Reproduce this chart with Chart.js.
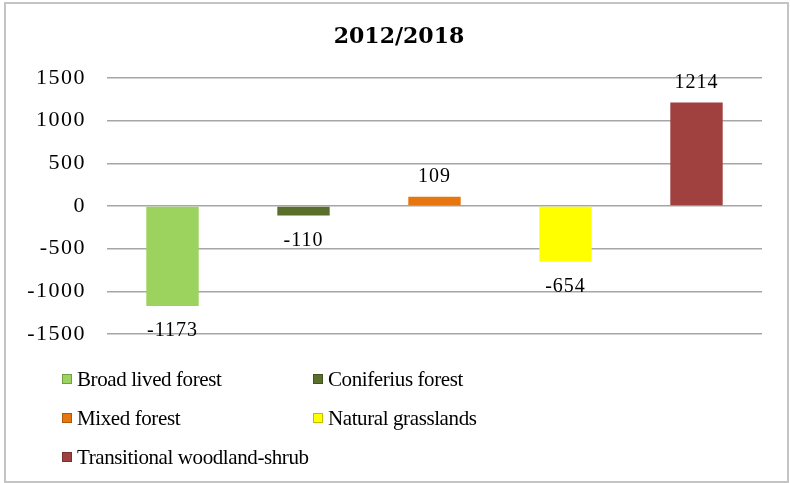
<!DOCTYPE html>
<html>
<head>
<meta charset="utf-8">
<script src="https://cdn.jsdelivr.net/npm/chart.js@4/dist/chart.umd.min.js"></script>
<style>
  html, body { margin: 0; padding: 0; background: #fff; }
  #wrap { width: 790px; height: 483px; position: relative; }
</style>
</head>
<body>
<div id="wrap"><canvas id="changeChart" width="790" height="483"></canvas></div>
<script>
// land cover change 2012 -> 2018
const chartTitle = '2012/2018';
const categories = ['Broad lived forest', 'Coniferius forest', 'Mixed forest', 'Natural grasslands', 'Transitional woodland-shrub'];
const changes = [-1173, -110, 109, -654, 1214];
const yTicks = [-1500, -1000, -500, 0, 500, 1000, 1500];

const barColors = ['#9bd35e', '#5b6f2d', '#e8760f', '#ffff00', '#a04140'];
const SERIF = '"Liberation Serif", "Times New Roman", serif';

// frame, title, value labels and the two-column legend
const decorPlugin = {
    id: 'decor',
    beforeDraw(chart) {
        const ctx = chart.ctx;
        ctx.save();
        ctx.strokeStyle = '#c4c4c4';
        ctx.lineWidth = 2;
        ctx.strokeRect(5, 3, 783, 479);
        ctx.restore();
        // wider spacing for the axis numbers
        ctx.letterSpacing = '1.5px';
    },
    beforeDatasetsDraw(chart) {
        chart.ctx.letterSpacing = '0px';
    },
    afterDraw(chart) {
        const ctx = chart.ctx;
        ctx.save();
        ctx.fillStyle = '#000';
        ctx.textAlign = 'center';
        ctx.textBaseline = 'middle';

        ctx.letterSpacing = '0px';
        ctx.font = 'bold 22px "DejaVu Serif", serif';
        ctx.fillText(chartTitle, 399, 37);

        ctx.letterSpacing = '1px';
        ctx.font = '20px ' + SERIF;
        const meta = chart.getDatasetMeta(0);
        meta.data.forEach((bar, i) => {
            const v = changes[i];
            const y = v >= 0 ? bar.y - 20 : bar.y + 25;
            ctx.fillText(String(v), bar.x, y);
        });

        ctx.letterSpacing = '-0.4px';
        ctx.font = '21px ' + SERIF;
        ctx.textAlign = 'left';
        const colX = [62, 313];
        const rowY = [379, 418, 457];
        categories.forEach((name, i) => {
            const x = colX[i % 2];
            const y = rowY[Math.floor(i / 2)];
            ctx.fillStyle = barColors[i];
            ctx.fillRect(x, y - 5, 10, 10);
            ctx.strokeStyle = 'rgba(0,0,0,0.25)';
            ctx.lineWidth = 1;
            ctx.strokeRect(x + 0.5, y - 4.5, 9, 9);
            ctx.fillStyle = '#000';
            ctx.fillText(name, x + 15, y + 1);
        });
        ctx.restore();
    }
};

const ctx = document.getElementById('changeChart').getContext('2d');
new Chart(ctx, {
    type: 'bar',
    data: {
        labels: categories,
        datasets: [{
            data: changes,
            backgroundColor: barColors,
            borderWidth: 0,
            categoryPercentage: 1,
            barPercentage: 0.4
        }]
    },
    options: {
        responsive: false,
        animation: false,
        layout: { padding: { top: 78, bottom: 149, right: 28, left: 0 } },
        plugins: {
            legend: { display: false },
            title: { display: false },
            tooltip: { enabled: false }
        },
        scales: {
            x: { display: false },
            y: {
                min: -1500,
                max: 1500,
                afterBuildTicks: scale => { scale.ticks = yTicks.map(v => ({ value: v })); },
                afterFit: scale => { scale.width = 107; },
                border: { display: false },
                grid: { color: '#a6a6a6', lineWidth: 1.5, drawTicks: false },
                ticks: {
                    padding: 21,
                    color: '#000',
                    font: { family: SERIF, size: 22 },
                    callback: value => String(value)
                }
            }
        }
    },
    plugins: [decorPlugin]
});
</script>
</body>
</html>
